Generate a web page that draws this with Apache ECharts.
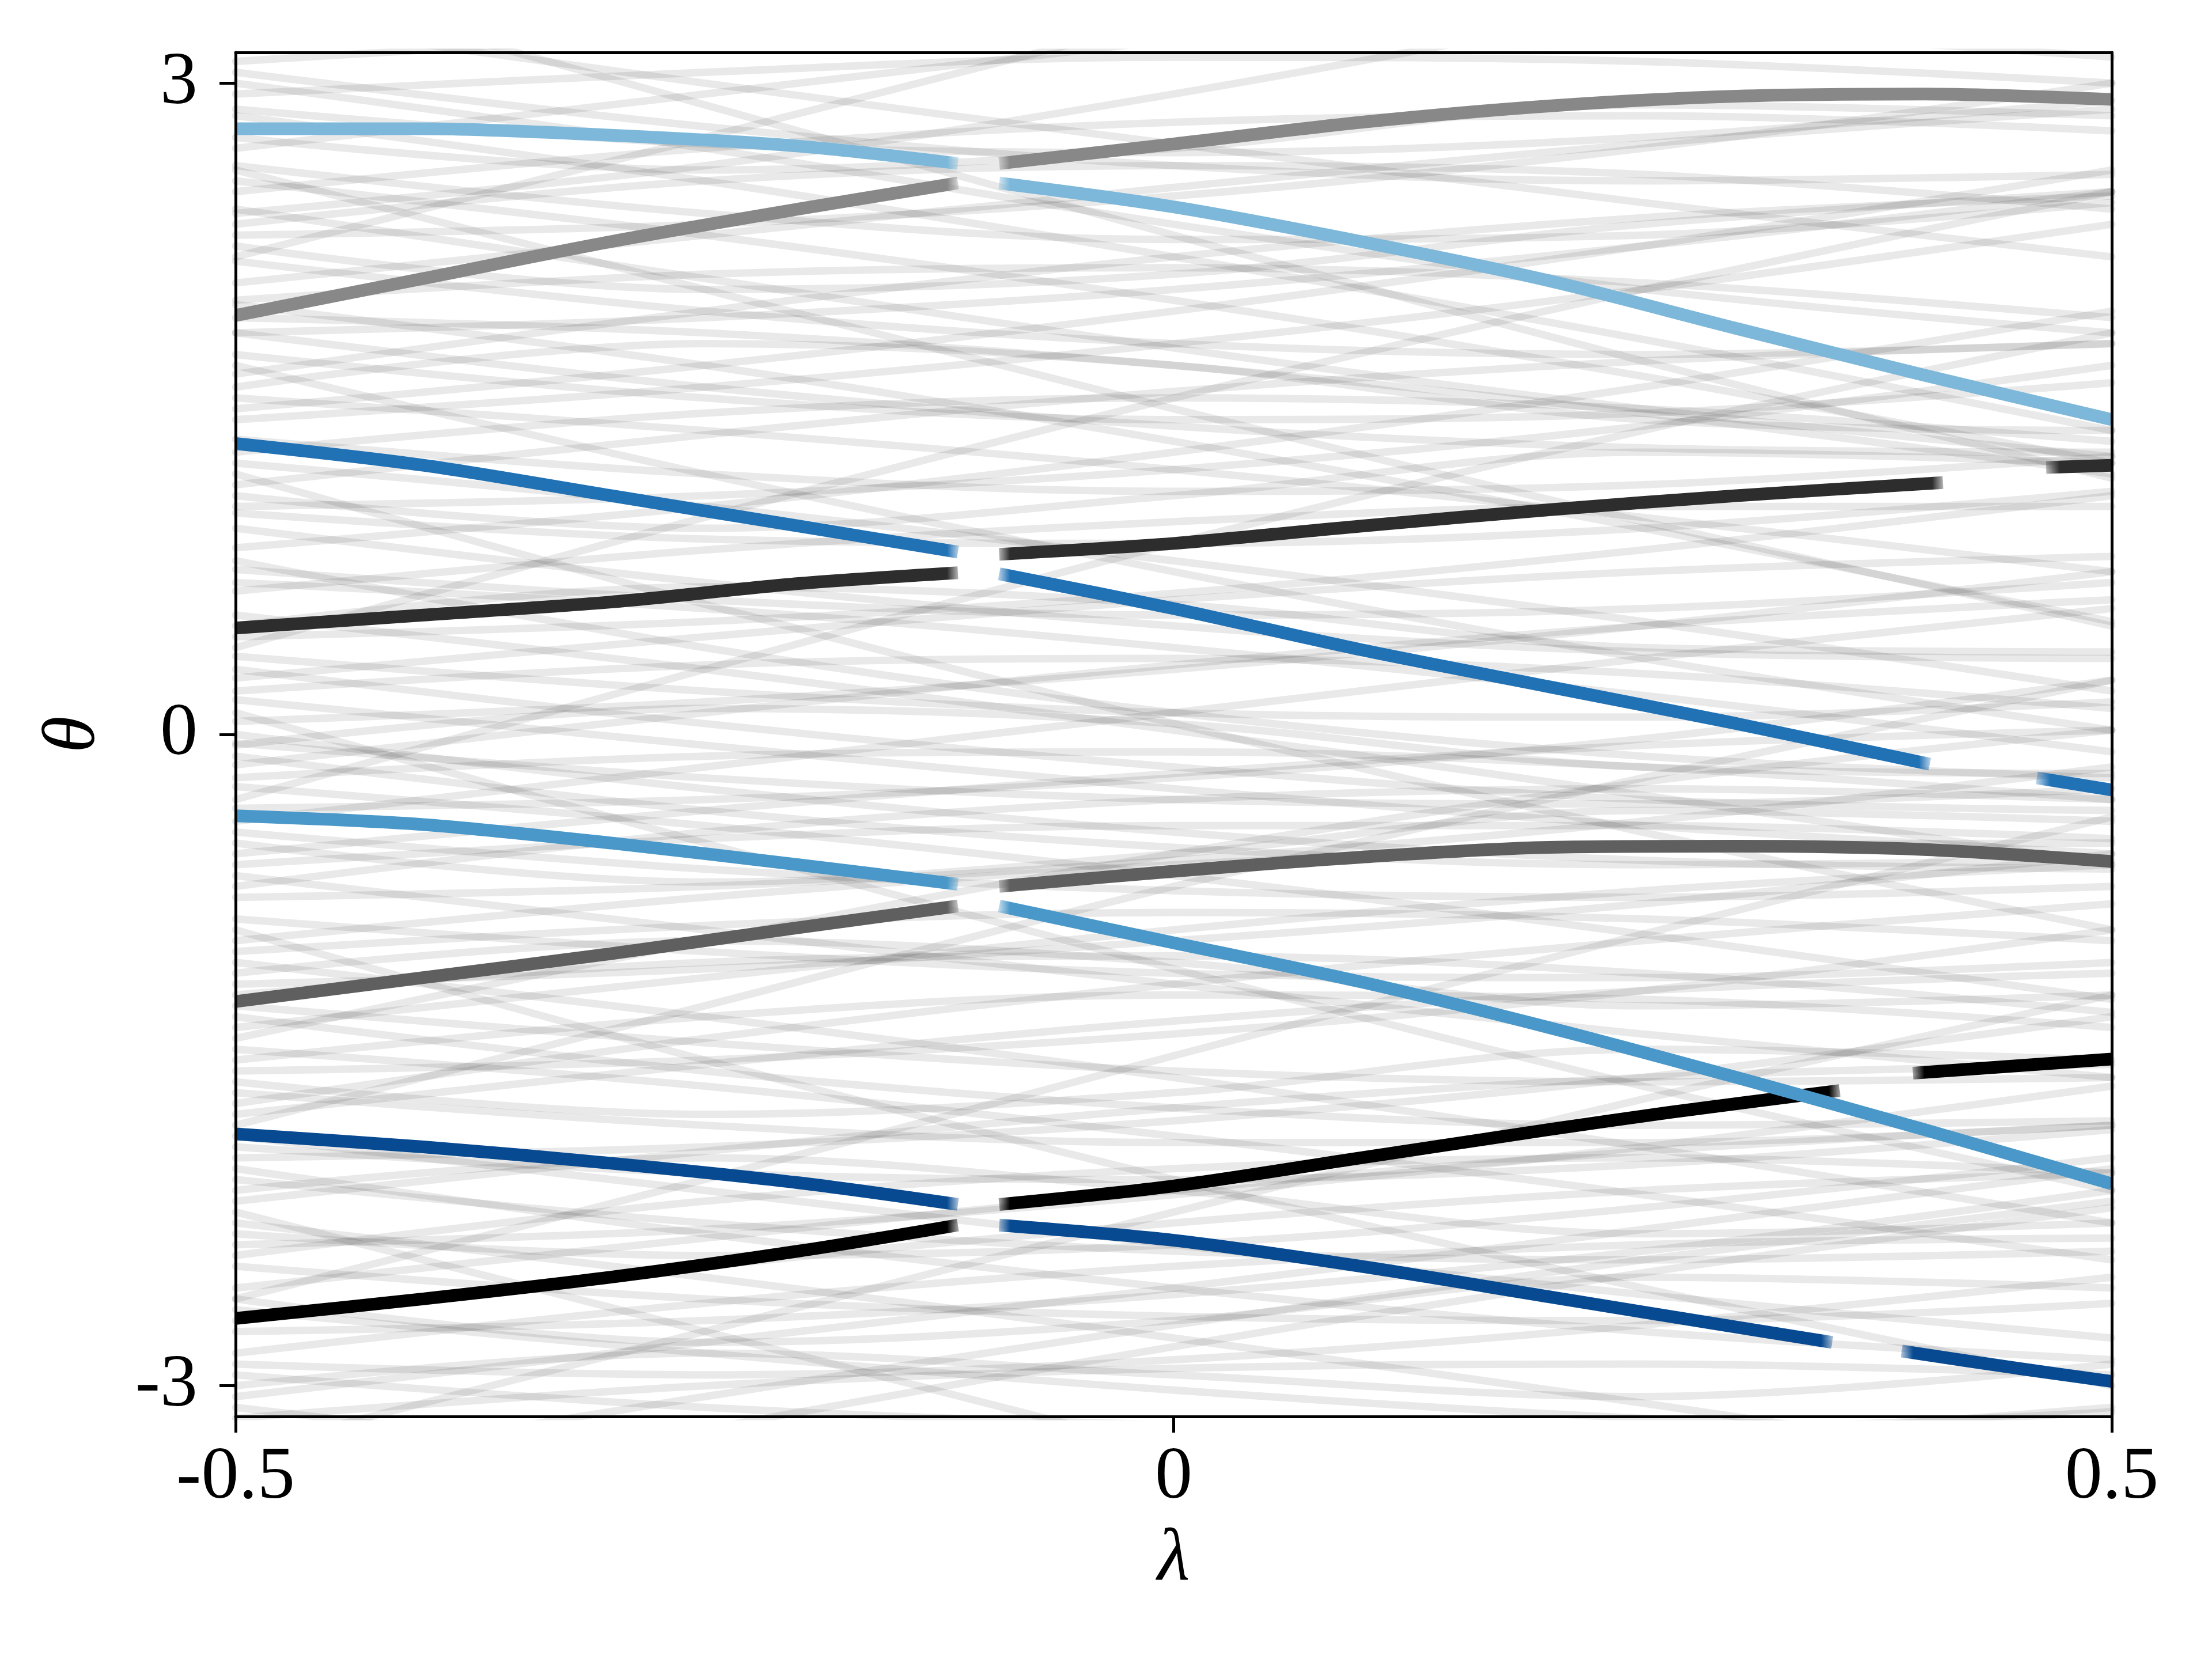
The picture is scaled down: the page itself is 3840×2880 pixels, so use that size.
<!DOCTYPE html>
<html><head><meta charset="utf-8">
<script src="https://cdn.jsdelivr.net/npm/echarts@6/dist/echarts.min.js"></script>
<style>html,body{margin:0;padding:0;background:#fff}#chart{width:3840px;height:2880px}</style>
</head><body><div id="chart"></div>
<script>
// ---------- data ----------
const bgLambda = [-0.5, -0.25, 0, 0.25, 0.5];

const bgUpper = [
  [3.05, 2.80, 2.62, 2.55, 2.58], [2.95, 3.05, 3.12, 3.10, 3.00], [2.85, 2.55, 2.20, 1.82, 1.40],
  [2.70, 2.95, 3.20, 3.45, 3.70], [2.62, 2.40, 2.28, 2.30, 2.45], [2.50, 2.70, 2.82, 2.85, 2.78],
  [2.42, 2.10, 1.78, 1.50, 1.28], [2.30, 2.35, 2.48, 2.70, 3.00], [2.18, 1.95, 1.80, 1.75, 1.80],
  [2.08, 2.30, 2.52, 2.72, 2.88], [1.98, 1.70, 1.35, 0.95, 0.52], [1.85, 1.92, 2.05, 2.25, 2.50],
  [1.75, 1.55, 1.45, 1.48, 1.62], [1.66, 1.95, 2.20, 2.38, 2.48], [1.55, 1.40, 1.22, 1.00, 0.75],
  [1.45, 1.60, 1.80, 2.05, 2.35], [1.36, 1.20, 1.12, 1.15, 1.28], [1.25, 1.05, 0.80, 0.52, 0.20],
  [1.15, 1.38, 1.58, 1.72, 1.80], [1.05, 1.10, 1.22, 1.42, 1.70], [3.10, 3.22, 3.28, 3.25, 3.12],
  [2.88, 2.72, 2.68, 2.75, 2.92], [2.35, 2.55, 2.62, 2.58, 2.42], [1.92, 1.85, 1.70, 1.48, 1.20],
  [1.30, 1.48, 1.55, 1.50, 1.35], [2.00, 2.12, 2.15, 2.08, 1.92]
];
const bgMiddle = [
  [0.95, 0.70, 0.50, 0.38, 0.35], [0.86, 1.05, 1.30, 1.60, 1.95], [0.76, 0.62, 0.55, 0.58, 0.70],
  [0.66, 0.85, 0.98, 1.05, 1.05], [0.55, 0.30, 0.02, -0.28, -0.60], [0.45, 0.52, 0.65, 0.85, 1.10],
  [0.36, 0.20, 0.10, 0.08, 0.15], [0.26, 0.45, 0.62, 0.75, 0.82], [0.16, -0.05, -0.25, -0.42, -0.55],
  [0.06, 0.15, 0.30, 0.50, 0.75], [-0.04, -0.20, -0.30, -0.32, -0.25], [-0.14, 0.10, 0.32, 0.50, 0.62],
  [-0.24, -0.42, -0.65, -0.92, -1.22], [-0.34, -0.30, -0.20, -0.02, 0.25], [-0.45, -0.62, -0.72, -0.75, -0.70],
  [-0.55, -0.35, -0.18, -0.05, 0.02], [-0.65, -0.90, -1.15, -1.38, -1.58], [-0.75, -0.70, -0.58, -0.40, -0.15],
  [-0.85, -1.00, -1.10, -1.12, -1.05], [-0.95, -0.75, -0.60, -0.52, -0.50], [0.70, 0.58, 0.40, 0.18, -0.08],
  [0.20, 0.32, 0.35, 0.28, 0.12], [-0.20, -0.10, -0.08, -0.15, -0.30], [-0.60, -0.48, -0.42, -0.42, -0.48],
  [1.02, 0.90, 0.88, 0.95, 1.12], [-0.10, -0.35, -0.52, -0.60, -0.58]
];
const bgLower = [
  [-1.05, -1.30, -1.58, -1.90, -2.25], [-1.15, -1.08, -0.95, -0.78, -0.55], [-1.25, -1.42, -1.55, -1.60, -1.58],
  [-1.35, -1.12, -0.90, -0.72, -0.60], [-1.45, -1.62, -1.85, -2.12, -2.42], [-1.55, -1.50, -1.38, -1.18, -0.90],
  [-1.65, -1.80, -1.88, -1.88, -1.80], [-1.75, -1.52, -1.32, -1.18, -1.10], [-1.85, -2.10, -2.35, -2.58, -2.78],
  [-1.95, -1.90, -1.78, -1.58, -1.30], [-2.05, -2.25, -2.38, -2.42, -2.38], [-2.15, -1.92, -1.72, -1.58, -1.52],
  [-2.25, -2.50, -2.78, -3.08, -3.40], [-2.35, -2.28, -2.12, -1.90, -1.62], [-2.45, -2.60, -2.68, -2.70, -2.62],
  [-2.55, -2.32, -2.10, -1.92, -1.80], [-2.65, -2.85, -3.02, -3.15, -3.22], [-2.75, -2.70, -2.58, -2.38, -2.10],
  [-2.85, -2.62, -2.45, -2.35, -2.32], [-2.95, -3.10, -3.18, -3.20, -3.12], [-3.05, -2.80, -2.55, -2.28, -2.00],
  [-3.15, -3.00, -2.92, -2.90, -2.95], [-1.00, -0.88, -0.82, -0.85, -0.95], [-1.50, -1.30, -1.20, -1.22, -1.35],
  [-1.90, -2.02, -2.05, -1.98, -1.82], [-2.40, -2.15, -2.00, -1.95, -2.02], [-2.90, -2.95, -2.88, -2.72, -2.50],
  [-3.20, -3.30, -3.32, -3.25, -3.10], [-1.20, -1.05, -1.02, -1.10, -1.28], [-2.30, -2.40, -2.35, -2.18, -1.95]
];
const bgSteep = [
  [-3.40, -3.05, -2.72, -2.42, -2.15], [3.30, 3.00, 2.72, 2.45, 2.20], [-3.60, -3.20, -2.82, -2.48, -2.18],
  [3.50, 2.90, 2.30, 1.72, 1.18], [2.20, 2.75, 3.30, 3.85, 4.40], [0.40, 1.00, 1.55, 2.05, 2.50],
  [1.20, 0.60, 0.05, -0.45, -0.90], [-0.30, 0.30, 0.88, 1.40, 1.85], [-1.80, -1.25, -0.70, -0.20, 0.25],
  [-0.90, -1.50, -2.05, -2.55, -3.00], [-3.30, -2.75, -2.20, -1.68, -1.20], [-2.20, -2.75, -3.30, -3.85, -4.40],
  [0.10, -0.50, -1.08, -1.62, -2.10], [2.60, 2.05, 1.50, 0.98, 0.50], [-2.60, -2.05, -1.48, -0.92, -0.38],
  [1.70, 1.20, 0.75, 0.35, 0.02], [0.80, 0.40, 0.10, -0.10, -0.20], [-1.40, -0.95, -0.55, -0.22, 0.02]
];
const bgWavy = [
  [2.75, 2.60, 2.70, 2.90, 2.85], [2.25, 2.05, 2.12, 2.35, 2.50], [1.60, 1.80, 1.70, 1.45, 1.40],
  [1.10, 0.95, 1.10, 1.30, 1.25], [0.50, 0.68, 0.60, 0.40, 0.38], [-0.05, 0.12, 0.05, -0.15, -0.18],
  [-0.50, -0.68, -0.55, -0.35, -0.40], [-1.10, -0.95, -1.05, -1.25, -1.20], [-1.60, -1.75, -1.65, -1.45, -1.50],
  [-2.10, -1.95, -2.10, -2.30, -2.25], [-2.60, -2.80, -2.70, -2.50, -2.55], [-3.00, -2.85, -2.95, -3.05, -2.90],
  [3.00, 2.70, 2.35, 2.05, 1.85], [1.50, 1.70, 1.95, 2.25, 2.60], [0.30, 0.05, -0.15, -0.30, -0.35],
  [-0.70, -0.45, -0.30, -0.25, -0.30], [-1.70, -1.40, -1.15, -0.95, -0.78], [-2.70, -2.45, -2.25, -2.10, -2.02],
  [2.55, 2.30, 2.00, 1.65, 1.25], [0.00, -0.25, -0.45, -0.58, -0.62], [-0.40, -0.15, 0.10, 0.35, 0.58],
  [-2.00, -2.30, -2.55, -2.75, -2.88], [1.85, 1.60, 1.42, 1.32, 1.30], [-1.30, -1.55, -1.72, -1.80, -1.78],
  [2.40, 2.62, 2.95, 3.35, 3.80], [-3.10, -3.35, -3.60, -3.85, -4.10]
];

// highlighted eigenphase branches: [lambda, theta]
const lightBlueLeft  = [[-0.5, 2.79], [-0.4, 2.79], [-0.3, 2.76], [-0.2, 2.71], [-0.115, 2.63]];
const lightBlueRight = [[-0.093, 2.54], [0, 2.43], [0.1, 2.27], [0.2, 2.09], [0.3, 1.87], [0.4, 1.655], [0.5, 1.45]];
const grayLeft       = [[-0.5, 1.93], [-0.4, 2.10], [-0.3, 2.27], [-0.2, 2.42], [-0.115, 2.54]];
const grayRight      = [[-0.093, 2.63], [0, 2.72], [0.1, 2.82], [0.2, 2.895], [0.3, 2.94], [0.4, 2.95], [0.5, 2.925]];
const blueLeft       = [[-0.5, 1.34], [-0.4, 1.24], [-0.3, 1.10], [-0.2, 0.96], [-0.115, 0.84]];
const blueMid        = [[-0.093, 0.74], [0, 0.58], [0.1, 0.39], [0.2, 0.22], [0.3, 0.05], [0.403, -0.137]];
const blueRight      = [[0.46, -0.20], [0.5, -0.256]];
const charcoalLeft   = [[-0.5, 0.49], [-0.4, 0.55], [-0.3, 0.61], [-0.2, 0.695], [-0.115, 0.745]];
const charcoalMid    = [[-0.093, 0.83], [0, 0.88], [0.1, 0.96], [0.2, 1.035], [0.3, 1.10], [0.41, 1.16]];
const charcoalRight  = [[0.465, 1.23], [0.5, 1.24]];
const midBlueLeft    = [[-0.5, -0.375], [-0.4, -0.415], [-0.3, -0.50], [-0.2, -0.60], [-0.115, -0.69]];
const midBlueRight   = [[-0.093, -0.79], [0, -0.96], [0.1, -1.14], [0.2, -1.35], [0.3, -1.58], [0.4, -1.82], [0.5, -2.07]];
const dimGrayLeft    = [[-0.5, -1.23], [-0.4, -1.12], [-0.3, -1.01], [-0.2, -0.89], [-0.115, -0.79]];
const dimGrayRight   = [[-0.093, -0.70], [0, -0.63], [0.1, -0.565], [0.2, -0.52], [0.3, -0.515], [0.4, -0.53], [0.5, -0.585]];
const navyLeft       = [[-0.5, -1.84], [-0.4, -1.90], [-0.3, -1.975], [-0.2, -2.065], [-0.115, -2.165]];
const navyMid        = [[-0.093, -2.26], [0, -2.33], [0.1, -2.45], [0.2, -2.59], [0.3, -2.73], [0.351, -2.80]];
const navyRight      = [[0.388, -2.84], [0.45, -2.92], [0.5, -2.98]];
const blackLeft      = [[-0.5, -2.69], [-0.4, -2.60], [-0.3, -2.50], [-0.2, -2.38], [-0.115, -2.26]];
const blackMid       = [[-0.093, -2.165], [0, -2.08], [0.1, -1.95], [0.2, -1.82], [0.265, -1.74], [0.355, -1.64]];
const blackRight     = [[0.394, -1.56], [0.5, -1.495]];

const xTicks = [-0.5, 0, 0.5];
const yTicks = [-3, 0, 3];

// ---------- styling helpers ----------
function rgba(hex, a) {
  const n = parseInt(hex.slice(1), 16);
  return 'rgba(' + ((n >> 16) & 255) + ',' + ((n >> 8) & 255) + ',' + (n & 255) + ',' + a + ')';
}
function fadeGradient(hex, seg, fadeIn, fadeOut) {
  const span = seg[seg.length - 1][0] - seg[0][0];
  const f = Math.min(0.4, 0.009 / span);
  const stops = [];
  if (fadeIn) { stops.push({offset: 0, color: rgba(hex, 0)}, {offset: f, color: rgba(hex, 1)}); }
  else stops.push({offset: 0, color: rgba(hex, 1)});
  if (fadeOut) { stops.push({offset: 1 - f, color: rgba(hex, 1)}, {offset: 1, color: rgba(hex, 0)}); }
  else stops.push({offset: 1, color: rgba(hex, 1)});
  return new echarts.graphic.LinearGradient(0, 0, 1, 0, stops);
}

const series = [];
[bgUpper, bgMiddle, bgLower, bgSteep, bgWavy].forEach(group => {
  group.forEach(row => {
    series.push({
      type: 'line', silent: true, animation: false, showSymbol: false, smooth: 0.35, z: 1,
      data: bgLambda.map((l, i) => [l, row[i]]),
      lineStyle: {color: 'rgba(0,0,0,0.085)', width: 13, cap: 'round'}
    });
  });
});

function fg(seg, hex, fadeIn, fadeOut, z) {
  series.push({
    type: 'line', silent: true, animation: false, showSymbol: false, smooth: 0.3, z: z,
    data: seg,
    lineStyle: {color: fadeGradient(hex, seg, fadeIn, fadeOut), width: 22, cap: 'butt'}
  });
}
const cGray = '#888888', cLight = '#7db8da', cChar = '#2d2d2d', cBlue = '#2171b5',
      cDim = '#5f5f5f', cMid = '#4a98c9', cBlack = '#000000', cNavy = '#084a91';
fg(grayLeft, cGray, false, true, 3);  fg(grayRight, cGray, true, false, 3);
fg(lightBlueLeft, cLight, false, true, 4); fg(lightBlueRight, cLight, true, false, 4);
fg(charcoalLeft, cChar, false, true, 3); fg(charcoalMid, cChar, true, true, 3); fg(charcoalRight, cChar, true, false, 3);
fg(blueLeft, cBlue, false, true, 4); fg(blueMid, cBlue, true, true, 4); fg(blueRight, cBlue, true, false, 4);
fg(dimGrayLeft, cDim, false, true, 3); fg(dimGrayRight, cDim, true, false, 3);
fg(blackLeft, cBlack, false, true, 3); fg(blackMid, cBlack, true, true, 3); fg(blackRight, cBlack, true, false, 3);
fg(midBlueLeft, cMid, false, true, 4); fg(midBlueRight, cMid, true, false, 4);
fg(navyLeft, cNavy, false, true, 4); fg(navyMid, cNavy, true, true, 4); fg(navyRight, cNavy, true, false, 4);

const FONT = '"Liberation Serif", "DejaVu Serif", serif';
const axisLine = {show: true, onZero: false, lineStyle: {color: '#000', width: 5}};
const chart = echarts.init(document.getElementById('chart'), null, {renderer: 'canvas'});
chart.setOption({
  animation: false,
  backgroundColor: '#ffffff',
  grid: {left: 409, right: 174, top: 91, bottom: 421, containLabel: false},
  xAxis: [{
    type: 'value', min: -0.5, max: 0.5, interval: 0.5, z: 10,
    axisLine: axisLine,
    axisTick: {show: true, length: 28, lineStyle: {color: '#000', width: 5}, customValues: xTicks},
    axisLabel: {show: true, margin: 42, color: '#000', fontSize: 130, fontFamily: FONT, customValues: xTicks,
      formatter: v => String(v)},
    splitLine: {show: false},
    name: 'λ', nameLocation: 'middle', nameGap: 185,
    nameTextStyle: {color: '#000', fontSize: 130, fontFamily: FONT, fontStyle: 'italic'}
  }, {
    type: 'value', position: 'top', min: -0.5, max: 0.5, z: 10,
    axisLine: axisLine, axisTick: {show: false}, axisLabel: {show: false}, splitLine: {show: false}
  }],
  yAxis: [{
    type: 'value', min: -Math.PI, max: Math.PI, z: 10,
    axisLine: axisLine,
    axisTick: {show: true, length: 28, lineStyle: {color: '#000', width: 5}, customValues: yTicks},
    axisLabel: {show: true, margin: 66, color: '#000', fontSize: 130, fontFamily: FONT, customValues: yTicks,
      formatter: v => String(v)},
    splitLine: {show: false},
    name: 'θ', nameLocation: 'middle', nameGap: 215, nameRotate: 90,
    nameTextStyle: {color: '#000', fontSize: 130, fontFamily: FONT, fontStyle: 'italic'}
  }, {
    type: 'value', position: 'right', min: -Math.PI, max: Math.PI, z: 10,
    axisLine: axisLine, axisTick: {show: false}, axisLabel: {show: false}, splitLine: {show: false}
  }],
  series: series
});
</script>
</body></html>
